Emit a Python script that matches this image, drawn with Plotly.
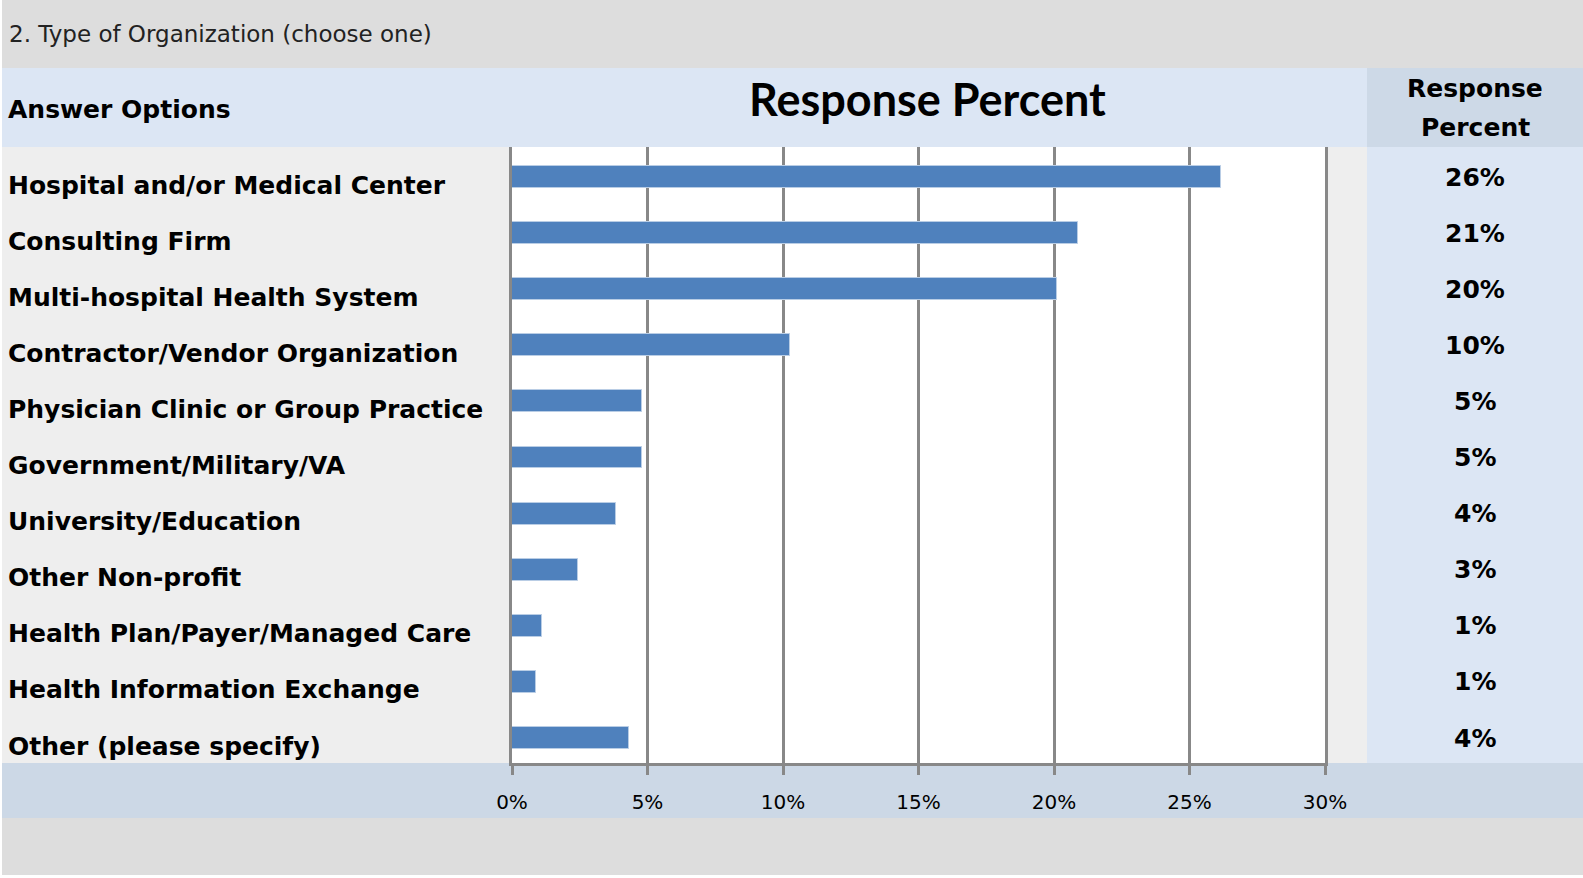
import plotly.graph_objects as go

W, H = 1583, 878

categories = [
    "Hospital and/or Medical Center",
    "Consulting Firm",
    "Multi-hospital Health System",
    "Contractor/Vendor Organization",
    "Physician Clinic or Group Practice",
    "Government/Military/VA",
    "University/Education",
    "Other Non-profit",
    "Health Plan/Payer/Managed Care",
    "Health Information Exchange",
    "Other (please specify)",
]
response_percent = [26.15, 20.9, 20.1, 10.25, 4.8, 4.8, 3.85, 2.45, 1.1, 0.9, 4.3]
response_labels = ["26%", "21%", "20%", "10%", "5%", "5%", "4%", "3%", "1%", "1%", "4%"]
x_tick_vals = [0, 5, 10, 15, 20, 25, 30]
x_tick_text = ["0%", "5%", "10%", "15%", "20%", "25%", "30%"]

title_text = "2. Type of Organization (choose one)"
chart_title = "Response Percent"
left_header = "Answer Options"
right_header_lines = ["Response", "Percent"]


def px(x):
    return x / W


def py(y):
    return 1 - y / H


idx = list(range(len(categories)))

fig = go.Figure()
fig.add_trace(go.Bar(
    x=response_percent,
    y=idx,
    orientation="h",
    width=0.39,
    marker=dict(color="#4f81bd", line=dict(color="#b9cde5", width=1)),
    hoverinfo="x+text",
    text=categories,
    textposition="none",
))

shapes = []


def rect(x0, y0, x1, y1, color):
    shapes.append(dict(type="rect", xref="paper", yref="paper",
                       x0=px(x0), x1=px(x1), y0=py(y1), y1=py(y0),
                       fillcolor=color, line=dict(width=0), layer="below"))


# background bands
rect(2, 0, W, 68, "#dddddd")         # title band
rect(2, 68, W, 147, "#dce6f4")       # header band
rect(1367, 68, W, 147, "#cdd9e7")    # right column header
rect(2, 147, 512, 763, "#eeeeee")    # body, left of plot
rect(1325, 147, 1367, 763, "#eeeeee")  # body, right of plot
rect(1367, 147, W, 763, "#dce6f4")   # right column body
rect(2, 763, W, 818, "#ccd8e6")      # axis band
rect(2, 818, W, 875, "#dddddd")      # bottom band

annotations = []
annotations.append(dict(text=title_text, xref="paper", yref="paper",
                        x=px(7), y=py(34), xanchor="left", yanchor="middle",
                        showarrow=False,
                        font=dict(family="DejaVu Sans", size=23, color="#222222")))
annotations.append(dict(text=left_header, xref="paper", yref="paper",
                        x=px(6), y=py(110), xanchor="left", yanchor="middle",
                        showarrow=False,
                        font=dict(family="DejaVu Sans", size=25, color="#000000",
                                  weight="bold")))
annotations.append(dict(text="<b>" + chart_title + "</b>", xref="paper", yref="paper",
                        x=px(927), y=py(99), xanchor="center", yanchor="middle",
                        showarrow=False,
                        font=dict(family="Lato", size=45, color="#000000")))
for line, ypix in zip(right_header_lines, [89, 128]):
    annotations.append(dict(text=line, xref="paper", yref="paper",
                            x=px(1475), y=py(ypix), xanchor="center", yanchor="middle",
                            showarrow=False,
                            font=dict(family="DejaVu Sans", size=25, color="#000000",
                                      weight="bold")))

for i, (cat, lab) in enumerate(zip(categories, response_labels)):
    annotations.append(dict(text=cat, xref="paper", yref="y",
                            x=px(6), y=i, yshift=-8, xanchor="left", yanchor="middle",
                            showarrow=False,
                            font=dict(family="DejaVu Sans", size=25, color="#000000",
                                      weight="bold")))
    annotations.append(dict(text=lab, xref="paper", yref="y",
                            x=px(1475), y=i, xanchor="center", yanchor="middle",
                            showarrow=False,
                            font=dict(family="DejaVu Sans", size=25, color="#000000",
                                      weight="bold")))

fig.update_layout(
    template="none",
    width=W, height=H,
    autosize=False,
    margin=dict(l=0, r=0, t=0, b=0, pad=0, autoexpand=False),
    paper_bgcolor="#ffffff",
    plot_bgcolor="#ffffff",
    showlegend=False,
    shapes=shapes,
    annotations=annotations,
    bargap=0,
    xaxis=dict(
        domain=[px(512), px(1325)],
        range=[0, 30],
        automargin=False,
        tickvals=x_tick_vals,
        ticktext=x_tick_text,
        showgrid=True, gridcolor="#888888", gridwidth=3,
        zeroline=False,
        showline=True, linecolor="#888888", linewidth=3,
        ticks="outside", ticklen=9, tickwidth=3, tickcolor="#888888",
        ticklabelstandoff=10,
        tickfont=dict(family="DejaVu Sans", size=20, color="#000000"),
        fixedrange=True,
    ),
    yaxis=dict(
        domain=[py(763), py(147)],
        range=[10.445, -0.535],
        automargin=False,
        showticklabels=False,
        showgrid=False,
        zeroline=False,
        showline=True, mirror=True, linecolor="#888888", linewidth=3,
        ticks="",
        fixedrange=True,
    ),
)

fig.write_html(
    "out.html",
    config={"responsive": False, "displayModeBar": False},
    post_script="document.body.style.margin='0';document.body.style.overflow='hidden';",
)
